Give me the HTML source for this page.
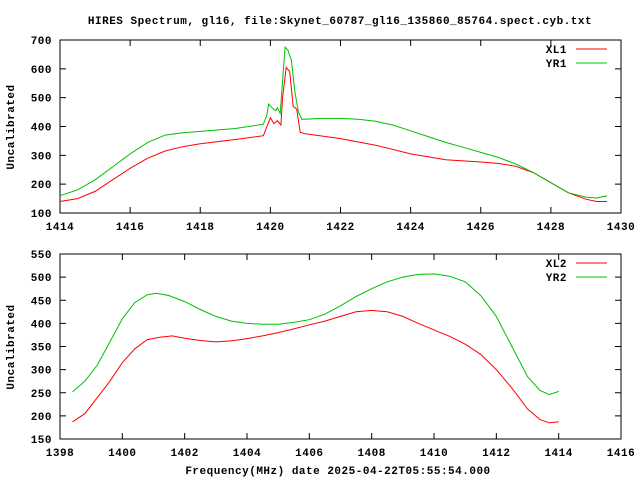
<!DOCTYPE html>
<html><head><meta charset="utf-8"><style>
html,body{margin:0;padding:0;background:#fff;}
svg{display:block;}
text{font-family:"Liberation Mono",monospace;font-size:11px;font-weight:bold;fill:#000;letter-spacing:0.5px;}
</style></head><body>
<svg id="s" width="640" height="480" xmlns="http://www.w3.org/2000/svg">
<rect width="640" height="480" fill="#fff"/>
<text x="340" y="24" text-anchor="middle">HIRES Spectrum, gl16, file:Skynet_60787_gl16_135860_85764.spect.cyb.txt</text>
<text x="338" y="474" text-anchor="middle">Frequency(MHz) date 2025-04-22T05:55:54.000</text>
<text transform="translate(14,127) rotate(-90)" text-anchor="middle">Uncalibrated</text>
<text transform="translate(14,347) rotate(-90)" text-anchor="middle">Uncalibrated</text>
<g id="g"></g>
</svg>
<script>
var g=document.getElementById('g'),h='';
function P(p){return {x0:p[0],x1:p[1],xa:p[2],xb:p[3],y0:p[4],y1:p[5],ya:p[6],yb:p[7]};}
var A=P([60,621,1414,1430,213,40,100,700]),B=P([60,621,1398,1416,439,254,150,550]);
function X(a,v){return a.x0+(v-a.xa)/(a.xb-a.xa)*(a.x1-a.x0);}
function Y(a,v){return a.y0+(v-a.ya)/(a.yb-a.ya)*(a.y1-a.y0);}
function frame(a,xs,ys){
 h+='<rect x="'+a.x0+'" y="'+a.y1+'" width="'+(a.x1-a.x0)+'" height="'+(a.y0-a.y1)+'" fill="none" stroke="#000"/>';
 xs.forEach(function(v){var x=X(a,v);h+='<path d="M'+x+' '+a.y0+'v-6M'+x+' '+a.y1+'v6" stroke="#000"/>';
  h+='<text x="'+x+'" y="'+(a.y0+17)+'" text-anchor="middle">'+v+'</text>';});
 ys.forEach(function(v){var y=Y(a,v);h+='<path d="M'+a.x0+' '+y+'h6M'+a.x1+' '+y+'h-6" stroke="#000"/>';
  h+='<text x="52" y="'+(y+4)+'" text-anchor="end">'+v+'</text>';});
}
function line(a,d,c){var s='';d.forEach(function(p,i){s+=(i?'L':'M')+X(a,p[0]).toFixed(1)+' '+Y(a,p[1]).toFixed(1);});
 h+='<path d="'+s+'" fill="none" stroke="'+c+'" stroke-width="1"/>';}
function leg(y,t,c){h+='<text x="567" y="'+(y+4)+'" text-anchor="end">'+t+'</text><path d="M576 '+y+'H607" stroke="'+c+'"/>';}
frame(A,[1414,1416,1418,1420,1422,1424,1426,1428,1430],[100,200,300,400,500,600,700]);
frame(B,[1398,1400,1402,1404,1406,1408,1410,1412,1414,1416],[150,200,250,300,350,400,450,500,550]);
var R='#ff0000',G='#00c000';
line(A,[[1414,140],[1414.5,150],[1415,175],[1415.5,215],[1416,255],[1416.5,290],[1417,315],[1417.5,330],[1418,340],[1419,355],[1419.8,368],[1419.9,400],[1420,430],[1420.1,410],[1420.2,420],[1420.3,405],[1420.35,500],[1420.45,605],[1420.55,590],[1420.65,470],[1420.75,460],[1420.85,380],[1421,375],[1422,358],[1423,335],[1424,305],[1425,285],[1426,277],[1426.5,272],[1427,262],[1427.5,240],[1428,205],[1428.5,170],[1429,148],[1429.3,140],[1429.6,140]],R);
line(A,[[1414,160],[1414.5,180],[1415,215],[1415.5,260],[1416,305],[1416.5,345],[1417,370],[1417.5,378],[1418,383],[1419,393],[1419.8,408],[1419.9,440],[1419.95,478],[1420.05,465],[1420.15,455],[1420.2,465],[1420.28,445],[1420.35,560],[1420.42,675],[1420.5,665],[1420.6,630],[1420.7,520],[1420.8,450],[1420.9,425],[1421.5,428],[1422,428],[1422.5,425],[1423,418],[1423.5,405],[1424,385],[1424.5,365],[1425,345],[1425.5,328],[1426,310],[1426.5,293],[1427,270],[1427.5,240],[1428,205],[1428.5,170],[1429,155],[1429.3,152],[1429.6,160]],G);
line(B,[[1398.4,187],[1398.8,205],[1399.2,240],[1399.6,275],[1400,315],[1400.4,345],[1400.8,365],[1401.2,370],[1401.6,373],[1402,368],[1402.5,363],[1403,360],[1403.5,362],[1404,367],[1404.5,373],[1405,380],[1405.5,388],[1406,397],[1406.5,405],[1407,415],[1407.5,425],[1408,428],[1408.5,425],[1409,415],[1409.5,400],[1410,386],[1410.5,372],[1411,355],[1411.5,333],[1412,300],[1412.5,260],[1413,215],[1413.4,192],[1413.7,185],[1414,187]],R);
line(B,[[1398.4,252],[1398.8,275],[1399.2,310],[1399.6,360],[1400,410],[1400.4,445],[1400.8,462],[1401.1,465],[1401.5,460],[1402,447],[1402.5,430],[1403,415],[1403.5,405],[1404,400],[1404.5,398],[1405,398],[1405.5,402],[1406,408],[1406.5,420],[1407,438],[1407.5,458],[1408,475],[1408.5,490],[1409,500],[1409.5,506],[1410,507],[1410.5,502],[1411,490],[1411.5,460],[1412,415],[1412.5,350],[1413,285],[1413.4,255],[1413.7,246],[1414,253]],G);
leg(49,'XL1',R);leg(63,'YR1',G);leg(263,'XL2',R);leg(277,'YR2',G);
g.innerHTML=h;
</script>
</body></html>
